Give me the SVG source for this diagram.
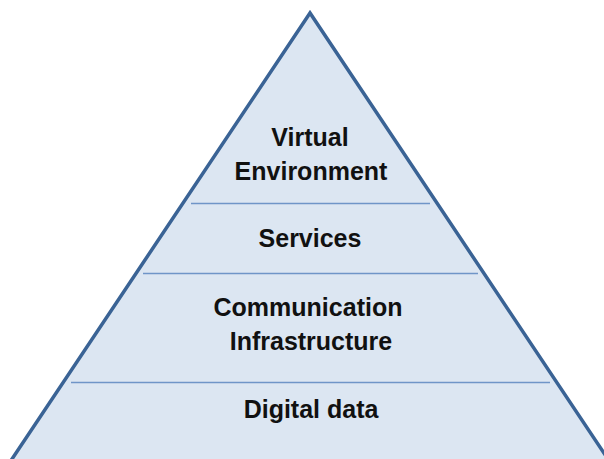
<svg xmlns="http://www.w3.org/2000/svg" width="604" height="459" viewBox="0 0 604 459">
  <style>
    .layer-line { stroke: #6f95c8; stroke-width: 1.3; fill: none; }
    .label { font-family: "Liberation Sans", Arial, sans-serif; font-weight: bold; font-size: 25px; fill: #111111; text-anchor: middle; }
  </style>
  <rect x="0" y="0" width="604" height="459" fill="#ffffff"/>
  <g id="pyramid">
    <polygon points="310,13 8,465 612,465" fill="#dce6f2" stroke="#3a6395" stroke-width="3.5" stroke-linejoin="miter"/>
  </g>
  <g id="connectors">
    <line class="layer-line" x1="191" y1="203.5" x2="430" y2="203.5"/>
    <line class="layer-line" x1="143" y1="273.5" x2="478" y2="273.5"/>
    <line class="layer-line" x1="71" y1="382.5" x2="550" y2="382.5"/>
  </g>
  <g id="virtual-environment">
    <text class="label" x="310" y="146">Virtual</text>
    <text class="label" x="311" y="180">Environment</text>
  </g>
  <g id="services">
    <text class="label" x="310" y="247">Services</text>
  </g>
  <g id="communication-infrastructure">
    <text class="label" x="308" y="316">Communication</text>
    <text class="label" x="311" y="350">Infrastructure</text>
  </g>
  <g id="digital-data">
    <text class="label" x="311" y="418">Digital data</text>
  </g>
</svg>
